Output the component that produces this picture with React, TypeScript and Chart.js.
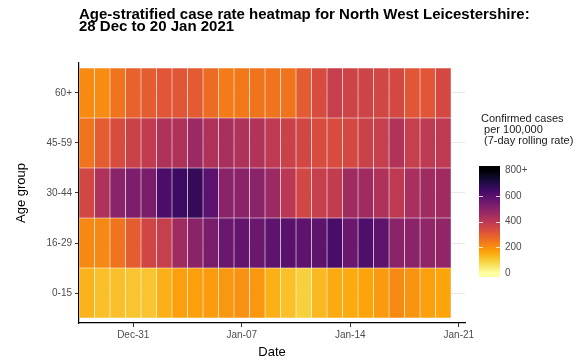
import React, { useEffect, useRef } from 'react';
import { Chart, registerables } from 'chart.js';

Chart.register(...registerables);

// ---------- data ----------
const dates = [
  '2020-12-28', '2020-12-29', '2020-12-30', '2020-12-31', '2021-01-01', '2021-01-02',
  '2021-01-03', '2021-01-04', '2021-01-05', '2021-01-06', '2021-01-07', '2021-01-08',
  '2021-01-09', '2021-01-10', '2021-01-11', '2021-01-12', '2021-01-13', '2021-01-14',
  '2021-01-15', '2021-01-16', '2021-01-17', '2021-01-18', '2021-01-19', '2021-01-20',
];
const ageGroups = ['0-15', '16-29', '30-44', '45-59', '60+'];

const rate0to15 = [138, 117, 117, 109, 109, 142, 169, 169, 176, 183, 194, 183, 142, 117, 91, 130, 152, 152, 161, 180, 208, 190, 171, 161];
const rate16to29 = [210, 210, 250, 295, 355, 375, 455, 495, 530, 560, 575, 560, 585, 595, 585, 585, 625, 560, 615, 585, 495, 495, 485, 485];
const rate30to44 = [350, 425, 495, 525, 530, 620, 650, 665, 590, 495, 495, 495, 465, 400, 350, 375, 385, 455, 455, 425, 395, 440, 455, 455];
const rate45to59 = [250, 295, 335, 365, 385, 425, 425, 465, 425, 440, 425, 420, 395, 365, 350, 335, 335, 345, 365, 375, 420, 375, 395, 395];
const rate60plus = [208, 205, 250, 285, 295, 310, 310, 300, 265, 235, 240, 250, 250, 250, 300, 335, 375, 360, 360, 350, 345, 310, 310, 345];
const seriesByGroup = [rate0to15, rate16to29, rate30to44, rate45to59, rate60plus];

const xTickDays = [3, 10, 17, 24];
const xTickLabels = ['Dec-31', 'Jan-07', 'Jan-14', 'Jan-21'];
const legendTickValues = [0, 200, 400, 600, 800];
const legendTickLabels = ['0', '200', '400', '600', '800+'];
const legendTitle = ['Confirmed cases', ' per 100,000', ' (7-day rolling rate)'];
const titleLines = ['Age-stratified case rate heatmap for North West Leicestershire:', '28 Dec to 20 Jan 2021'];
const colourMax = 800;

// inferno palette stops (t = 0 dark .. 1 light)
const inferno = ['#000004', '#160b39', '#420a68', '#6a176e', '#932667', '#bc3754', '#dd513a', '#f37819', '#fca50a', '#f6d746', '#fcffa4'];

function hexToRgb(h: string) {
  return [parseInt(h.slice(1, 3), 16), parseInt(h.slice(3, 5), 16), parseInt(h.slice(5, 7), 16)];
}
function colourFor(v: number) {
  const t = 1 - Math.max(0, Math.min(1, v / colourMax));
  const p = t * (inferno.length - 1);
  const i = Math.min(inferno.length - 2, Math.floor(p));
  const f = p - i;
  const a = hexToRgb(inferno[i]);
  const b = hexToRgb(inferno[i + 1]);
  const c = a.map((x, k) => Math.round(x + (b[k] - x) * f));
  return `rgb(${c[0]},${c[1]},${c[2]})`;
}

const FONT = '"Liberation Sans", Arial, sans-serif';

const overlayPlugin = {
  id: 'overlay',
  afterDraw(chart: any) {
    const ctx = chart.ctx;
    ctx.save();
    // title
    ctx.fillStyle = '#000';
    ctx.font = `bold 15px ${FONT}`;
    ctx.textBaseline = 'middle';
    ctx.textAlign = 'left';
    titleLines.forEach((t, i) => ctx.fillText(t, 79, 14.5 + i * 12.7));

    // legend title
    ctx.font = `11px ${FONT}`;
    ctx.fillStyle = '#1a1a1a';
    legendTitle.forEach((t, i) => ctx.fillText(t, 481, 118.5 + i * 11));

    // colour bar
    const x0 = 479, w = 21;
    const yZero = 273, yMax = 170;
    const yOf = (v: number) => yZero - (v / colourMax) * (yZero - yMax);
    const grad = ctx.createLinearGradient(0, yZero, 0, yMax);
    for (let s = 0; s <= 40; s++) {
      const v = (s / 40) * colourMax;
      grad.addColorStop(s / 40, colourFor(v));
    }
    ctx.fillStyle = grad;
    ctx.fillRect(x0, 166, w, 111);
    ctx.strokeStyle = 'rgba(255,255,255,0.8)';
    ctx.lineWidth = 1;
    legendTickValues.forEach((v) => {
      if (v === 0 || v === colourMax) return;
      const y = Math.round(yOf(v)) + 0.5;
      ctx.beginPath();
      ctx.moveTo(x0, y); ctx.lineTo(x0 + 4, y);
      ctx.moveTo(x0 + w - 4, y); ctx.lineTo(x0 + w, y);
      ctx.stroke();
    });
    ctx.fillStyle = '#4d4d4d';
    ctx.font = `10px ${FONT}`;
    legendTickValues.forEach((v, i) => ctx.fillText(legendTickLabels[i], 505, yOf(v)));
    ctx.restore();
  },
};

export default function App() {
  const ref = useRef<HTMLCanvasElement | null>(null);

  useEffect(() => {
    document.body.style.margin = '0';
    const canvas = ref.current;
    if (!canvas) return;

    const datasets = ageGroups.map((g, k) => ({
      label: g,
      data: dates.map((_, i) => ({ x: i, y: [k - 0.5, k + 0.5] })),
      backgroundColor: seriesByGroup[k].map(colourFor),
      borderColor: 'rgba(255,255,255,0.3)',
      borderWidth: 0.6,
      borderSkipped: false,
      grouped: false,
      barPercentage: 1,
      categoryPercentage: 1,
    }));

    const chart = new Chart(canvas, {
      type: 'bar',
      data: { datasets: datasets as any },
      options: {
        animation: false,
        responsive: false,
        devicePixelRatio: 1,
        layout: { padding: { top: 63, right: 121, bottom: 0, left: 0 } },
        plugins: { legend: { display: false }, tooltip: { enabled: false }, title: { display: false } },
        scales: {
          x: {
            type: 'linear',
            offset: false,
            min: -0.5,
            max: 24.4,
            afterBuildTicks: (s: any) => { s.ticks = xTickDays.map((v) => ({ value: v })); },
            afterFit: (s: any) => { s.height = 39; },
            ticks: {
              callback: (v: any) => xTickLabels[xTickDays.indexOf(Number(v))] ?? '',
              color: '#4d4d4d',
              font: { family: FONT, size: 10 },
              maxRotation: 0,
              padding: 2,
            },
            grid: { offset: false, drawOnChartArea: false, tickLength: 4, tickColor: '#333', tickWidth: 1 },
            border: { display: true, color: '#000', width: 1.2 },
            title: { display: true, text: 'Date', color: '#000', font: { family: FONT, size: 13 }, padding: { top: 0, bottom: 2 } },
          },
          y: {
            type: 'linear',
            min: -0.6,
            max: 4.6,
            afterBuildTicks: (s: any) => { s.ticks = ageGroups.map((_, k) => ({ value: k })); },
            afterFit: (s: any) => { s.width = 79; },
            ticks: {
              callback: (v: any) => ageGroups[Number(v)] ?? '',
              color: '#4d4d4d',
              font: { family: FONT, size: 10 },
              padding: 3,
            },
            grid: { color: '#ebebe6', lineWidth: 1, tickLength: 4, tickColor: '#333' },
            border: { display: true, color: '#000', width: 1.2 },
            title: { display: true, text: 'Age group', color: '#000', font: { family: FONT, size: 13 }, padding: { top: 14, bottom: 0 } },
          },
        },
      },
      plugins: [overlayPlugin],
    });

    return () => chart.destroy();
  }, []);

  return (
    <div style={{ width: 586, height: 362, background: '#fff' }}>
      <canvas ref={ref} width={586} height={362} />
    </div>
  );
}
